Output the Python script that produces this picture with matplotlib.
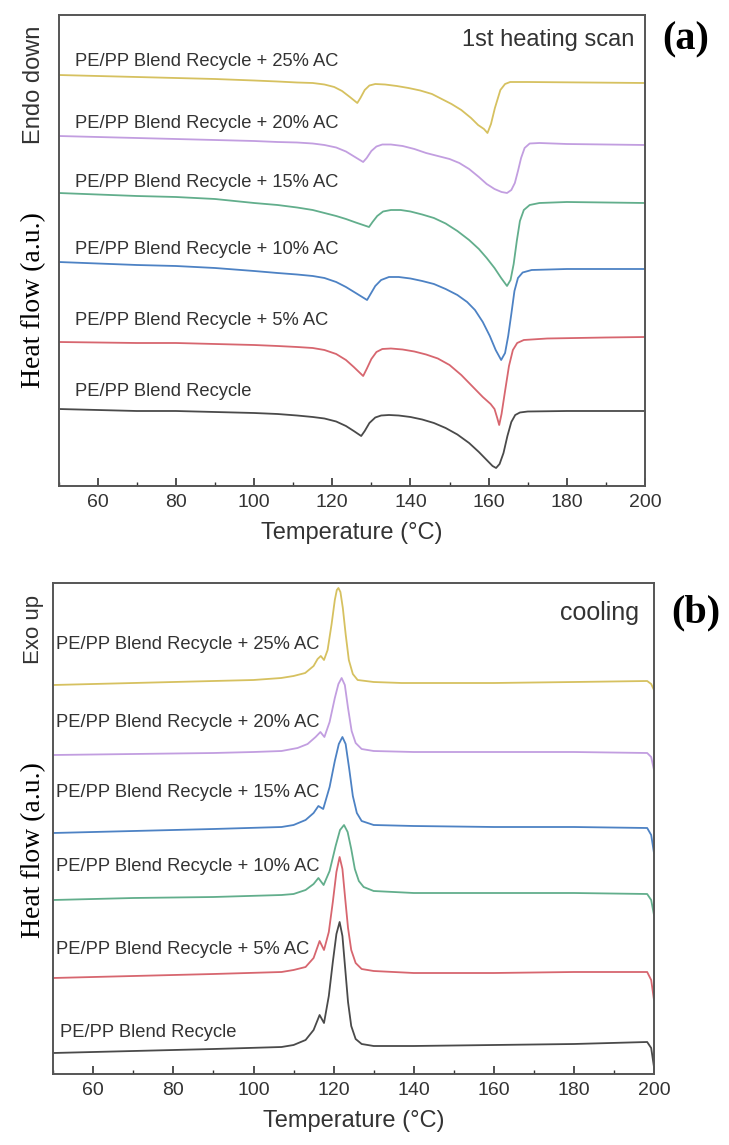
import matplotlib
matplotlib.use("Agg")
import matplotlib.pyplot as plt
from matplotlib.ticker import MultipleLocator

# ---- data (y in arbitrary units, stacked) ----
labels = ["PE/PP Blend Recycle + 25% AC", "PE/PP Blend Recycle + 20% AC",
          "PE/PP Blend Recycle + 15% AC", "PE/PP Blend Recycle + 10% AC",
          "PE/PP Blend Recycle + 5% AC", "PE/PP Blend Recycle"]

# (a) 1st heating scan, temperature / heat flow pairs
heat_25 = [(50, 411), (60, 410), (70, 409), (80, 408), (90, 407), (100, 405.5), (106, 404.5),
           (111, 403.5), (115, 403), (118, 401.5), (120.5, 399), (122.5, 395), (124.5, 389),
           (126.4, 383), (127.2, 388), (128.3, 396), (129.5, 400.5), (131, 402), (133.5, 401.5),
           (136.5, 400), (139.5, 398), (142.5, 395.5), (145.5, 392), (148, 387), (150.5, 382),
           (153, 376), (155.5, 368), (157.3, 361), (158.8, 357), (159.7, 353), (160.6, 362),
           (161.6, 378), (163, 396), (164.2, 402), (165.5, 404), (170, 404), (185, 403.5),
           (200, 403)]
heat_20 = [(50, 350), (60, 349), (70, 348), (80, 347), (90, 346), (100, 345), (106, 344),
           (111, 343.5), (115, 342.5), (118, 341), (121, 338.5), (123.5, 334.5), (125.8, 329),
           (127.9, 324), (128.8, 328), (130, 335), (131.3, 339.5), (132.8, 341.5), (135, 341.5),
           (138, 340), (141, 337), (144, 333), (147, 330), (150, 327), (152.5, 323), (155, 317),
           (157.5, 309), (159.5, 302), (161.5, 297), (163.3, 294), (164.7, 293), (165.8, 296),
           (166.7, 303), (167.5, 315), (168.3, 328), (169.2, 338), (170.5, 342.5), (173, 343),
           (180, 342), (200, 341)]
heat_15 = [(50, 293), (60, 291.5), (70, 290), (80, 289), (90, 287), (100, 283), (106, 281),
           (111, 278.5), (115, 276), (118, 273), (121, 270), (123.5, 267), (126, 263.5),
           (129.4, 259), (130.3, 264), (131.5, 270), (133, 274.5), (135, 276), (137.5, 276),
           (140, 274.5), (143, 271.5), (146, 268), (149, 262.5), (152, 255), (155, 246),
           (157.5, 237), (159.5, 228), (161.5, 218), (163.2, 208), (164.7, 200), (165.6, 206),
           (166.4, 222), (167.2, 245), (168, 265), (169, 276), (170.5, 281), (173, 283),
           (180, 284), (200, 283)]
heat_10 = [(50, 224), (60, 222.5), (70, 221), (80, 220), (90, 218), (100, 215), (106, 213),
           (111, 211.5), (115, 210), (118, 208), (121, 204), (123.5, 199), (126, 193),
           (128.9, 186), (129.8, 192), (131, 200), (132.5, 206), (134.5, 209), (137, 209),
           (140, 207.5), (143, 205), (146, 202), (149, 197), (152, 191), (154.5, 184),
           (156.5, 176), (158.5, 164), (160.3, 150), (161.8, 136), (163.2, 126), (164.2, 133),
           (165, 150), (165.8, 172), (166.6, 195), (167.5, 208), (168.7, 213.5), (171, 216),
           (180, 217), (200, 217)]
heat_5 = [(50, 144), (60, 143.5), (70, 143), (80, 143), (90, 142), (100, 141), (106, 140),
          (111, 139), (115, 138), (118, 136), (121, 132), (123.5, 126), (125.5, 119),
          (127.9, 110), (128.8, 117), (130, 127), (131.3, 134), (132.8, 137), (135, 137.5),
          (138, 136.5), (141, 134.5), (144, 131.5), (147, 127.5), (150, 121), (153, 111),
          (156, 99), (158.5, 89), (160.5, 82), (161.5, 77), (162.2, 68), (162.7, 61),
          (163.3, 72), (164.2, 95), (165.2, 120), (166.2, 136), (167.3, 143), (169, 146),
          (175, 147.5), (190, 148.5), (200, 149)]
heat_0 = [(50, 77), (60, 76), (70, 75), (80, 75), (90, 74), (100, 73), (106, 72), (111, 70.5),
          (115, 69), (118, 67.5), (121, 64.5), (123.5, 60), (125.5, 55), (127.4, 50),
          (128.3, 55), (129.5, 63), (131, 68.5), (132.5, 70.5), (134.5, 71), (137, 70.5),
          (140, 69), (143, 66.5), (146, 63), (149, 58), (152, 51.5), (155, 43), (157.5, 34),
          (159.5, 26), (161, 20), (161.9, 18), (162.8, 22), (163.8, 33), (164.8, 50),
          (165.8, 64), (166.8, 71), (168, 73.5), (170, 74.5), (180, 75), (200, 75)]

# (b) cooling
cool_25 = [(50, 389), (70, 391), (90, 393), (100, 394), (106.9, 396), (110, 398), (112.9, 401),
           (115, 408), (116, 415), (116.8, 418), (117.6, 414), (118.5, 424), (119.5, 450),
           (120.3, 474), (120.8, 484), (121.2, 486), (121.7, 482), (122.3, 466), (123, 440),
           (123.8, 414), (124.8, 400), (126, 394), (130, 392), (137, 391), (160, 391),
           (180, 392), (198.3, 393), (199.3, 390), (200, 384)]
cool_20 = [(50, 319), (70, 320), (90, 321), (100, 322), (107, 323), (111, 326), (113.5, 330),
           (115.5, 337), (116.7, 342), (117.7, 337), (119, 352), (120.3, 376), (121.2, 390),
           (122, 396), (122.8, 389), (123.6, 366), (124.5, 343), (125.5, 331), (127, 325),
           (130, 323), (140, 322), (160, 322), (180, 322), (198.3, 321), (199.3, 317),
           (200, 304)]
cool_15 = [(50, 241), (70, 243), (90, 245), (107, 247), (110, 249), (113, 254), (115, 261),
           (116.2, 268), (117.4, 265), (119, 287), (120.3, 313), (121.3, 330), (122.2, 337),
           (123, 330), (123.9, 305), (124.8, 278), (125.8, 261), (127, 253), (130, 249),
           (140, 248), (160, 247), (180, 247), (198.3, 246), (199.3, 239), (200, 221)]
cool_10 = [(50, 174), (70, 176), (90, 177), (107, 179), (110, 180), (113, 184), (115, 190),
           (116.2, 196), (117.5, 189), (119, 203), (120.5, 228), (121.6, 244), (122.6, 249),
           (123.5, 242), (124.4, 225), (125.3, 205), (126.3, 193), (127.5, 187), (130, 183),
           (140, 181), (160, 181), (180, 181), (198.3, 180), (199.3, 174), (200, 159)]
cool_5 = [(50, 96), (70, 98), (90, 100), (107, 102), (110, 104), (113, 107), (115, 116),
          (116.5, 133), (117.6, 124), (118.8, 142), (119.8, 172), (120.7, 202), (121.5, 217),
          (122.2, 205), (122.9, 175), (123.6, 146), (124.4, 124), (125.5, 111), (127, 105),
          (130, 103), (140, 101), (160, 101), (180, 102), (198.3, 102), (199.3, 94), (200, 74)]
cool_0 = [(50, 21), (70, 23), (90, 25), (107, 27), (110, 29), (113, 34), (115, 44), (116.5, 59),
          (117.6, 51), (118.8, 78), (119.8, 112), (120.7, 140), (121.5, 152), (122.2, 138),
          (122.9, 105), (123.6, 72), (124.4, 48), (125.5, 35), (127, 30), (130, 28), (140, 28),
          (160, 29), (180, 30), (198.3, 32), (199.3, 26), (200, 7)]

heat_curves = [heat_25, heat_20, heat_15, heat_10, heat_5, heat_0]
cool_curves = [cool_25, cool_20, cool_15, cool_10, cool_5, cool_0]

heat_colors = ["#d6c160", "#c29ee0", "#62ae8c", "#4d82c4", "#d7666f", "#4a4a4a"]
cool_colors = ["#d6c160", "#c29ee0", "#4d82c4", "#62ae8c", "#d7666f", "#4a4a4a"]

# label positions (temperature, heat flow)
heat_lab_pos = [(54.2, 424), (54.2, 362), (54.2, 303), (54.2, 236), (54.2, 165), (54.2, 94)]
cool_lab_pos = [(50.7, 429), (50.7, 351), (50.7, 281), (50.7, 207), (50.7, 124), (51.7, 41)]

plt.rcParams["font.family"] = ["Liberation Sans", "DejaVu Sans"]
grey = "#333333"

fig = plt.figure(figsize=(7.29, 11.45), dpi=100)
ax1 = fig.add_axes([0.0804, 0.57555, 0.8044, 0.41135])
ax2 = fig.add_axes([0.0731, 0.06201, 0.8240, 0.42882])


def style(ax, ymax):
    ax.set_xlim(50, 200)
    ax.set_ylim(0, ymax)
    ax.xaxis.set_major_locator(MultipleLocator(20))
    ax.xaxis.set_minor_locator(MultipleLocator(10))
    ax.set_xticks([60, 80, 100, 120, 140, 160, 180, 200])
    ax.tick_params(axis="x", which="major", direction="in", length=6, width=1.2,
                   labelsize=14, colors=grey, pad=6)
    ax.tick_params(axis="x", which="minor", direction="in", length=3, width=1.0, colors=grey)
    ax.set_yticks([])
    for s in ax.spines.values():
        s.set_color("#555555")
        s.set_linewidth(1.4)
    ax.set_xlabel("Temperature (°C)", fontsize=17, color=grey, labelpad=8)


for ax, curves, cols, pos, ymax in [(ax1, heat_curves, heat_colors, heat_lab_pos, 471),
                                      (ax2, cool_curves, cool_colors, cool_lab_pos, 491)]:
    for c, col, lab, p in zip(curves, cols, labels, pos):
        t = [q[0] for q in c]
        h = [q[1] for q in c]
        ax.plot(t, h, color=col, lw=1.3)
        ax.text(p[0], p[1], lab, fontsize=13.2, color=grey, va="center", ha="left")
    style(ax, ymax)

ax1.text(197.4, 446, "1st heating scan", fontsize=17, color=grey, ha="right", va="center")
ax2.text(196.2, 461, "cooling", fontsize=18, color=grey, ha="right", va="center")

fig.text(0.94, 0.965, "(a)", fontsize=29, fontweight="bold", family="Liberation Serif",
         ha="center", va="center")
fig.text(0.955, 0.465, "(b)", fontsize=29, fontweight="bold", family="Liberation Serif",
         ha="center", va="center")

fig.text(0.046, 0.926, "Endo down", fontsize=17, color=grey, rotation=90, ha="center", va="center")
fig.text(0.046, 0.738, "Heat flow (a.u.)", fontsize=20, family="Liberation Serif",
         rotation=90, ha="center", va="center")
fig.text(0.046, 0.450, "Exo up", fontsize=16, color=grey, rotation=90, ha="center", va="center")
fig.text(0.046, 0.258, "Heat flow (a.u.)", fontsize=20, family="Liberation Serif",
         rotation=90, ha="center", va="center")

fig.savefig("out.png", dpi=100)
